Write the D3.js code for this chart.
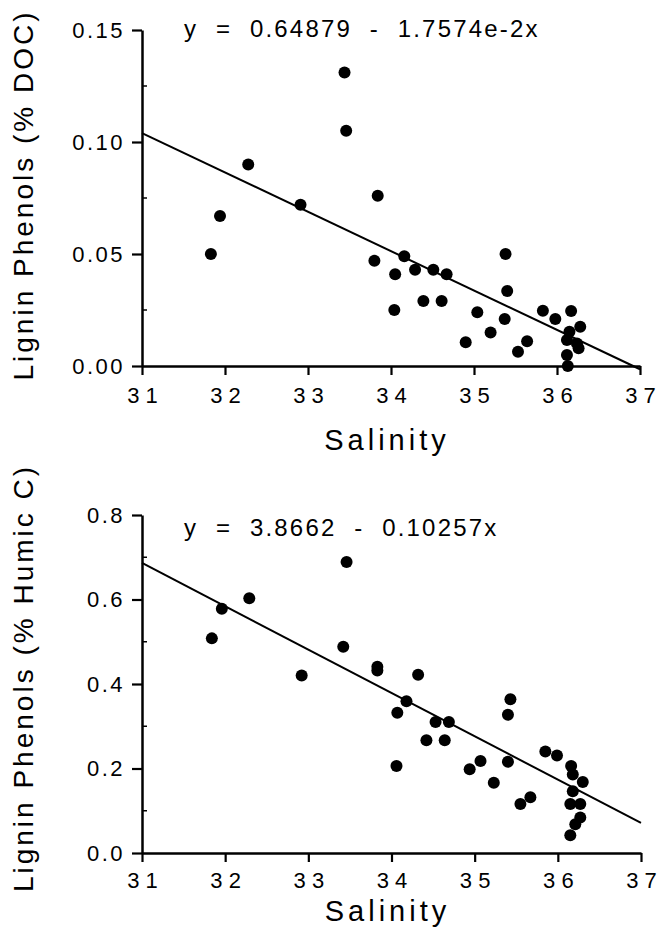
<!DOCTYPE html>
<html>

<head>
  <meta charset="utf-8">
  <title>Lignin phenols vs salinity</title>
  <style>
    body { margin: 0; background: #fff; }
    text { font-family: "Liberation Sans", Arial, sans-serif; fill: #000; }
  </style>
</head>

<body>
  <svg width="657" height="941"></svg>
  <script src="https://d3js.org/d3.v7.min.js"></script>
  <script>
    // data
    var salinityTicks = [31, 32, 33, 34, 35, 36, 37];
    var docTicks = [0, 0.05, 0.10, 0.15];
    var docMinor = [0.025, 0.075, 0.125];
    var humicTicks = [0, 0.2, 0.4, 0.6, 0.8];
    var humicMinor = [0.1, 0.3, 0.5, 0.7];

    var docSalinity = [31.83, 31.94, 32.28, 32.91, 33.44, 33.46, 33.84, 33.80, 34.16, 34.05, 34.04,
      34.29, 34.51, 34.67, 34.39, 34.61, 35.38, 35.40, 35.04, 35.37, 35.20, 34.90, 35.64, 35.53,
      35.83, 35.98, 36.17, 36.28, 36.15, 36.12, 36.24, 36.26, 36.12, 36.13];
    var docValues = [0.050, 0.067, 0.090, 0.072, 0.131, 0.105, 0.076, 0.047, 0.049, 0.041, 0.025,
      0.043, 0.043, 0.041, 0.029, 0.029, 0.050, 0.0335, 0.024, 0.021, 0.015, 0.0106, 0.011, 0.0064,
      0.0247, 0.021, 0.0246, 0.0175, 0.0153, 0.0116, 0.0101, 0.0079, 0.0049, 0.0];

    var humicSalinity = [31.84, 31.96, 32.29, 32.92, 33.46, 33.42, 33.83, 33.83, 34.32, 34.18, 34.07,
      34.06, 34.53, 34.69, 34.42, 34.64, 34.94, 35.07, 35.23, 35.43, 35.40, 35.40, 35.55, 35.67,
      35.85, 35.99, 36.16, 36.18, 36.30, 36.18, 36.15, 36.27, 36.27, 36.21, 36.15];
    var humicValues = [0.508, 0.578, 0.603, 0.420, 0.689, 0.488, 0.441, 0.432, 0.422, 0.359, 0.332,
      0.206, 0.310, 0.310, 0.267, 0.267, 0.198, 0.218, 0.166, 0.364, 0.327, 0.216, 0.116, 0.132,
      0.240, 0.231, 0.206, 0.186, 0.168, 0.146, 0.116, 0.116, 0.084, 0.068, 0.042];

    // regression: intercept, slope
    var docFit = [0.64879, -1.7574e-2];
    var humicFit = [3.8662, -0.10257];

    var svg = d3.select("svg");

    function drawPanel(opt) {
      var x = d3.scaleLinear().domain([31, 37]).range(opt.xRange);
      var y = d3.scaleLinear().domain(opt.yDomain).range(opt.yRange);
      var g = svg.append("g");

      // y axis
      var yAxis = g.append("g")
        .attr("transform", "translate(" + opt.xRange[0] + ",0)")
        .call(d3.axisLeft(y).tickValues(opt.yTicks).tickFormat(d3.format(opt.fmt))
          .tickSize(10).tickSizeOuter(0).tickPadding(7));
      yAxis.select(".domain").attr("stroke-width", 2.5);
      yAxis.selectAll(".tick line").attr("stroke-width", 2.2);
      yAxis.selectAll(".tick text").attr("font-size", 22).attr("letter-spacing", 2.5)
        .attr("font-family", "Liberation Sans, Arial, sans-serif");

      // minor inner ticks
      g.append("g").selectAll("line")
        .data(opt.yMinor)
        .enter().append("line")
        .attr("x1", opt.xRange[0]).attr("x2", opt.xRange[0] + 5)
        .attr("y1", function (d) { return y(d); })
        .attr("y2", function (d) { return y(d); })
        .attr("stroke", "#000").attr("stroke-width", 1.5);

      // x axis
      var xAxis = g.append("g")
        .attr("transform", "translate(0," + opt.yRange[0] + ")")
        .call(d3.axisBottom(x).tickValues(salinityTicks)
          .tickFormat(function (d) { return String(d).split("").join(" "); })
          .tickSize(9).tickSizeOuter(0).tickPadding(opt.xPad));
      xAxis.select(".domain").attr("stroke-width", 2.5);
      xAxis.selectAll(".tick line").attr("stroke-width", 2.2);
      xAxis.selectAll(".tick text").attr("font-size", 22)
        .attr("font-family", "Liberation Sans, Arial, sans-serif");

      // regression line
      g.append("line")
        .attr("x1", x(31)).attr("y1", y(opt.fit[0] + opt.fit[1] * 31))
        .attr("x2", x(37)).attr("y2", y(opt.fit[0] + opt.fit[1] * 37))
        .attr("stroke", "#000").attr("stroke-width", 2);

      // points
      g.append("g").selectAll("circle")
        .data(opt.xs)
        .enter().append("circle")
        .attr("cx", function (d) { return x(d); })
        .attr("cy", function (d, i) { return y(opt.ys[i]); })
        .attr("r", 6)
        .attr("fill", "#000");

      // equation
      g.append("text")
        .attr("x", x(31) + 42).attr("y", opt.eqY)
        .attr("font-size", 24).attr("letter-spacing", 2.2)
        .style("white-space", "pre")
        .text(opt.eq);

      // axis titles
      g.append("text")
        .attr("x", (opt.xRange[0] + opt.xRange[1]) / 2 - 4).attr("y", opt.salY)
        .attr("text-anchor", "middle")
        .attr("font-size", 29).attr("letter-spacing", 4)
        .text("Salinity");

      g.append("text")
        .attr("transform", "translate(33," + opt.labY + ") rotate(-90)")
        .attr("text-anchor", "middle")
        .attr("font-size", 28).attr("letter-spacing", 3)
        .text(opt.yLabel);
    }

    drawPanel({
      xRange: [142, 640], yRange: [366, 30], yDomain: [0, 0.15],
      yTicks: docTicks, yMinor: docMinor, fmt: ".2f", xPad: 12,
      xs: docSalinity, ys: docValues, fit: docFit,
      eq: "y  =  0.64879  -  1.7574e-2x", eqY: 37,
      salY: 450, labY: 195, yLabel: "Lignin Phenols (% DOC)"
    });

    drawPanel({
      xRange: [142, 641], yRange: [853, 515], yDomain: [0, 0.8],
      yTicks: humicTicks, yMinor: humicMinor, fmt: ".1f", xPad: 10,
      xs: humicSalinity, ys: humicValues, fit: humicFit,
      eq: "y  =  3.8662  -  0.10257x", eqY: 536,
      salY: 921, labY: 678, yLabel: "Lignin Phenols (% Humic C)"
    });
  </script>
</body>

</html>
